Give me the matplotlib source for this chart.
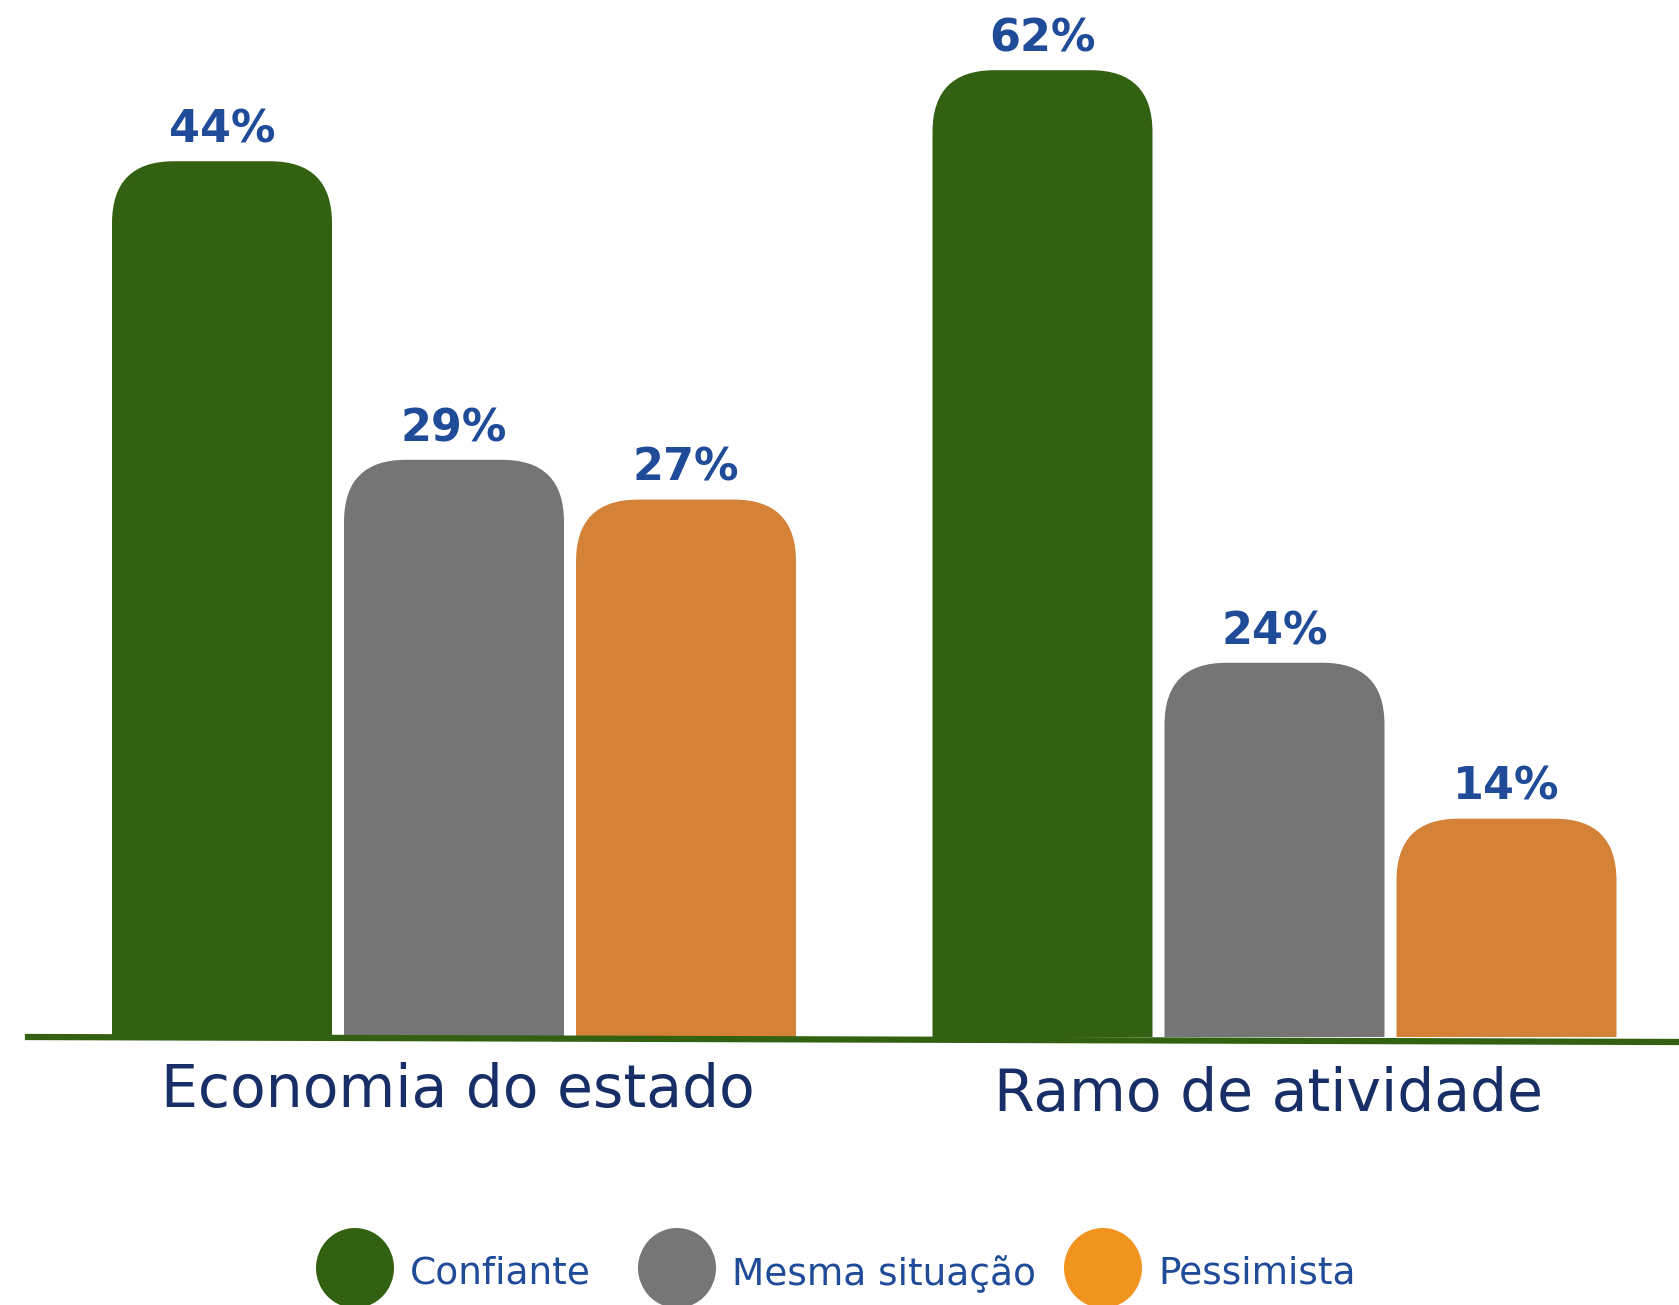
import matplotlib.pyplot as plt
from matplotlib.patches import FancyBboxPatch, Ellipse
from matplotlib.lines import Line2D

# dados
grupos = ["Economia do estado", "Ramo de atividade"]
series = ["Confiante", "Mesma situação", "Pessimista"]
economia = [44, 29, 27]
ramo = [62, 24, 14]
# cada grupo tem sua própria escala no original
ymax = [52.1, 66.5]

cores_barra = ["#336112", "#757575", "#d38237"]
cores_legenda = ["#336112", "#767676", "#f0931f"]
azul = "#1f4b99"
marinho = "#172f66"

W, H = 1679, 1305
fig = plt.figure(figsize=(W / 100, H / 100), dpi=100)
plt.rcParams['font.family'] = ['DejaVu Sans']


def px(x0, y0, w, h):
    """coordonnées pixel (haut-gauche) -> fraction de figure"""
    return [x0 / W, 1 - (y0 + h) / H, w / W, h / H]


baseline = 1037
step = 232
raio = 62  # rayon des coins en pixels


def desenha_grupo(left, valores, top):
    ax = fig.add_axes(px(left, 0, 3 * step, baseline))
    ax.set_xlim(-0.5, 2.5)
    ax.set_ylim(0, top)
    ax.axis('off')
    bars = ax.bar(range(3), valores, width=220 / step, color=cores_barra)
    # échelles pour coins arrondis circulaires
    x_per_px = 3 / (3 * step)
    y_per_px = top / baseline
    r = raio * x_per_px
    aspect = y_per_px / x_per_px
    for b, c, v in zip(bars, cores_barra, valores):
        x, w, h = b.get_x(), b.get_width(), b.get_height()
        b.remove()
        p = FancyBboxPatch((x, -top * 0.2), w, h + top * 0.2,
                           boxstyle=f"round,pad=0,rounding_size={r}",
                           mutation_aspect=aspect, fc=c, ec='none')
        ax.add_patch(p)
        ax.annotate(f"{v}%", (x + w / 2, h), xytext=(0, 7),
                    textcoords='offset points', ha='center', va='bottom',
                    fontsize=32, fontweight='bold', color=azul)
    return ax


desenha_grupo(106, economia, ymax[0])
desenha_grupo(926.5, ramo, ymax[1])

# ligne de base
fig.add_artist(Line2D([28 / W, 1], [1 - 1037 / H, 1 - 1042 / H],
                      color="#336112", lw=4.5, transform=fig.transFigure))

# rótulos das categorias
fig.text(458 / W, 1 - 1090 / H, grupos[0], ha='center', va='center',
         fontsize=42, color=marinho)
fig.text(1269 / W, 1 - 1094 / H, grupos[1], ha='center', va='center',
         fontsize=42, color=marinho)

# legenda
centros = [355, 677, 1103]
for cx, nome, c in zip(centros, series, cores_legenda):
    e = Ellipse((cx / W, 1 - 1268 / H), 78 / W, 80 / H, fc=c, ec='none',
                transform=fig.transFigure)
    fig.add_artist(e)
    fig.text((cx + 55) / W, 1 - 1274 / H, nome, ha='left', va='center',
             fontsize=27, color=azul)

fig.savefig("out.png", dpi=100, facecolor='white')
